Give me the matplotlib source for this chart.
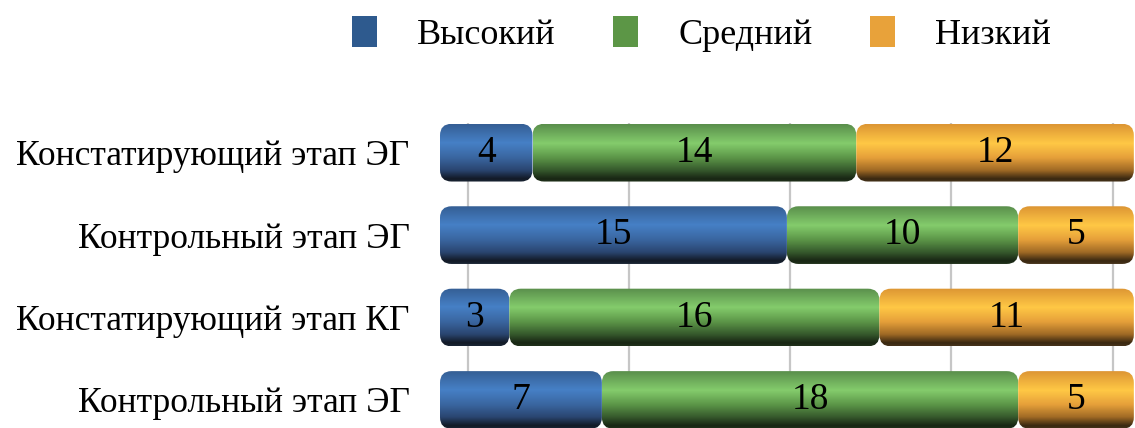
import numpy as np
import matplotlib.pyplot as plt
from matplotlib.colors import to_rgb
from matplotlib.patches import FancyBboxPatch, Patch

plt.rcParams['font.family'] = ['Liberation Serif', 'DejaVu Serif']

# Данные: число испытуемых по уровням на каждом этапе
stages = ['Констатирующий этап ЭГ', 'Контрольный этап ЭГ',
          'Констатирующий этап КГ', 'Контрольный этап ЭГ']
levels = ['Высокий', 'Средний', 'Низкий']
high = [4, 15, 3, 7]
medium = [14, 10, 16, 18]
low = [12, 5, 11, 5]

colors = ['#2E5A8E', '#5C9646', '#E8A23A']
# объёмная заливка "цилиндр": сверху вниз
shades = [
    [(0.0, '#355F95'), (0.32, '#4680C6'), (0.58, '#3A66A0'), (0.8, '#2A4570'), (0.95, '#121A26'), (1.0, '#1A2433')],
    [(0.0, '#5A8F4C'), (0.33, '#84CC6C'), (0.58, '#5C9648'), (0.8, '#36592C'), (0.95, '#182614'), (1.0, '#20301A')],
    [(0.0, '#DD9634'), (0.33, '#FFC845'), (0.58, '#E6A03A'), (0.8, '#A06A25'), (0.95, '#3A2811'), (1.0, '#45321A')],
]


def gradient(stops, n=64):
    t = np.linspace(0, 1, n)
    pos = [s[0] for s in stops]
    rgb = np.array([to_rgb(s[1]) for s in stops])
    img = np.stack([np.interp(t, pos, rgb[:, k]) for k in range(3)], axis=1)
    return img[:, None, :]


fig = plt.figure(figsize=(11.35, 4.28), dpi=100)
ax = fig.add_axes([440 / 1135, 0, 695 / 1135, (428 - 123) / 428])

y = np.arange(len(stages))
series = [high, medium, low]
left = np.zeros(len(stages))
bar_h = 0.70
x_max = 30.05
y_lim = (3.34, -0.36)
aspect = (695 / x_max) / (305 / (y_lim[0] - y_lim[1]))

for vals, color, stops in zip(series, colors, shades):
    bars = ax.barh(y, vals, left=left, height=bar_h, color=color, alpha=0, zorder=2)
    img = gradient(stops)
    for rect in bars.patches:
        x0, y0 = rect.get_x(), rect.get_y()
        w, h = rect.get_width(), rect.get_height()
        box = FancyBboxPatch((x0, y0), w, h,
                             boxstyle='round,pad=0,rounding_size=0.5',
                             mutation_aspect=aspect,
                             facecolor='none', edgecolor='none', zorder=3)
        ax.add_patch(box)
        im = ax.imshow(img, extent=[x0, x0 + w, y0 + h, y0], aspect='auto',
                       interpolation='bilinear', zorder=3)
        im.set_clip_path(box)
    ax.bar_label(bars, label_type='center', fontsize=27, color='black')
    for t in ax.texts:
        t.set_zorder(5)
    left += np.array(vals)

ax.set_xlim(0, x_max)
ax.set_ylim(*y_lim)

# линии сетки на задней стенке
ax.set_xticks(np.arange(1.2, 30, 6.97))
ax.grid(axis='x', color='#C6C6C6', linewidth=1.6)
ax.set_axisbelow(True)
ax.tick_params(axis='x', length=0, labelbottom=False)

ax.set_yticks(y, stages, fontsize=25.5)
ax.tick_params(axis='y', length=0, pad=22)
for s in ax.spines.values():
    s.set_visible(False)

handles = [Patch(facecolor=c, edgecolor='none') for c in colors]
fig.legend(handles, levels, loc='center', bbox_to_anchor=(0.618, 0.92),
           ncol=3, frameon=False, fontsize=26,
           handlelength=0.7, handleheight=0.95,
           handletextpad=1.1, columnspacing=1.6)

fig.savefig('out.png', dpi=100)
